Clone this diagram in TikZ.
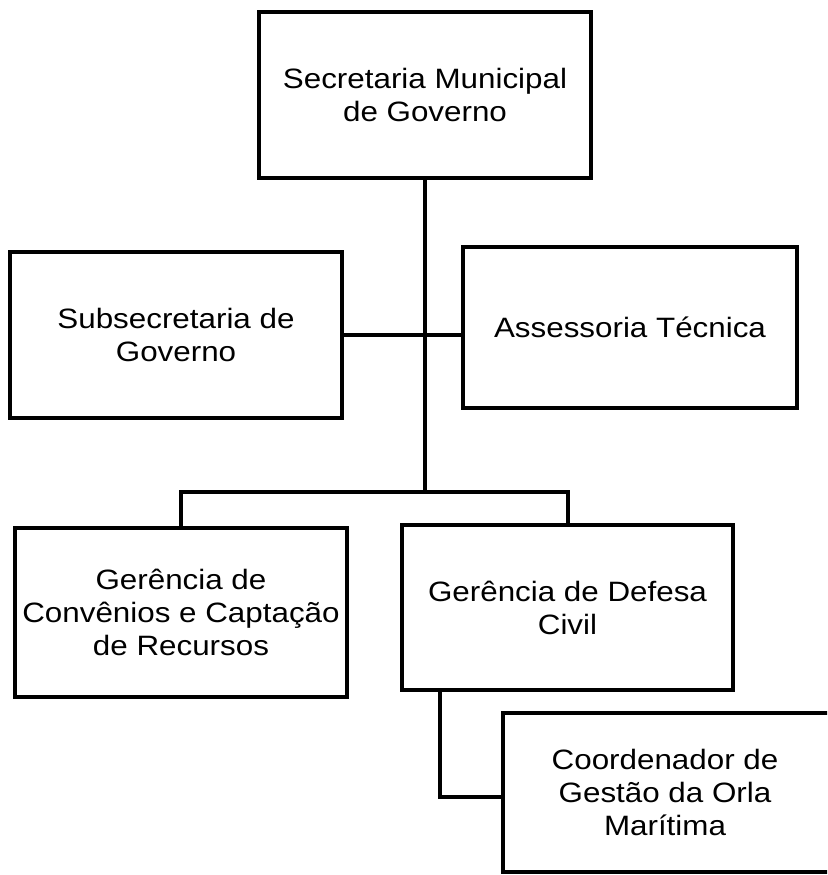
\documentclass[tikz,border=0pt]{standalone}
\usepackage{fontspec}
\setmainfont{Liberation Sans}[FakeStretch=1.12]
\begin{document}
\begin{tikzpicture}[x=1pt,y=-1pt,
  orgbox/.style={draw=black, line width=4pt, align=center, inner sep=0pt,
    font=\fontsize{28}{33}\selectfont},
  conn/.style={draw=black, line width=4pt}]
\useasboundingbox (0,0) rectangle (827,875);
\fill[white] (0,0) rectangle (827,875);
\begin{scope}
\clip (0,0) rectangle (827,875);
\node[orgbox, minimum width=332pt, minimum height=166pt] (top) at (425,95) {Secretaria Municipal\\de Governo};
\node[orgbox, minimum width=332pt, minimum height=166pt] (sub) at (176,335) {Subsecretaria de\\Governo};
\node[orgbox, minimum width=334pt, minimum height=161pt] (ass) at (630,327.5) {Assessoria Técnica};
\node[orgbox, minimum width=332pt, minimum height=169pt] (conv) at (181,612.5) {Gerência de\\Convênios e Captação\\de Recursos};
\node[orgbox, minimum width=331pt, minimum height=165pt] (def) at (567.5,607.5) {Gerência de Defesa\\Civil};
\node[orgbox, minimum width=340pt, minimum height=159pt] (coord) at (673,792.5) {};
\node[align=center, inner sep=0pt, font=\fontsize{28}{33}\selectfont] (coordtext) at (665,792.5) {Coordenador de\\Gestão da Orla\\Marítima};
\coordinate (jb) at (425,492);
\coordinate (dc) at (440,797);
\draw[conn] (top.south) -- (jb);
\draw[conn] (conv.north) |- (jb) -| (def.north);
\draw[conn] (sub.east) -- (sub.east -| ass.west);
\draw[conn] (def.south -| dc) -- (dc) -- (dc -| coord.west);
\end{scope}
\end{tikzpicture}
\end{document}
